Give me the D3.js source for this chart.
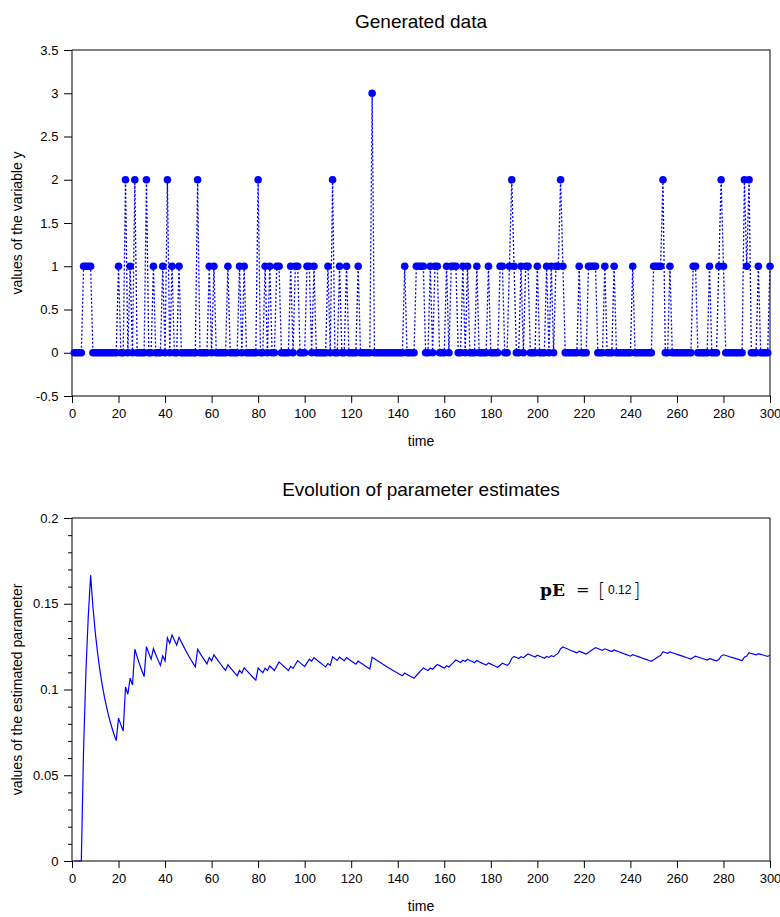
<!DOCTYPE html>
<html>
<head>
<meta charset="utf-8">
<script src="https://cdn.jsdelivr.net/npm/d3@7.9.0/dist/d3.min.js"></script>
<style>
  body { margin: 0; background: #fff; }
  svg text { fill: #000; }
</style>
</head>
<body>
<svg id="chart" width="780" height="917" font-family="'Liberation Sans', Arial, sans-serif"></svg>
<script>
const yValues = [
  0,0,0,0,1,1,1,1,0,0,0,0,0,0,0,0,0,0,0,1,
  0,0,2,0,1,0,2,0,0,0,0,2,0,0,1,0,0,0,1,0,
  2,0,1,0,0,1,0,0,0,0,0,0,0,2,0,0,0,0,1,0,
  1,0,0,0,0,0,1,0,0,0,0,1,0,1,0,0,0,0,0,2,
  0,0,1,0,1,0,0,1,1,0,0,0,0,1,0,1,1,0,0,0,
  1,1,0,1,0,0,0,0,0,1,0,2,0,0,1,0,0,1,0,0,
  0,0,1,0,0,0,0,0,3,0,0,0,0,0,0,0,0,0,0,0,
  0,0,1,0,0,0,0,1,1,1,1,0,0,1,0,1,1,0,0,0,
  1,0,1,1,1,0,0,1,0,1,0,0,0,1,0,0,0,0,1,0,
  0,0,0,1,1,0,0,1,2,1,0,0,1,0,1,1,0,0,0,1,
  0,0,0,1,0,1,0,1,1,2,1,0,0,0,0,0,0,1,0,0,
  0,1,1,1,1,0,0,0,1,0,0,0,1,0,0,0,0,0,0,0,
  1,0,0,0,0,0,0,0,0,1,1,1,1,2,0,0,1,0,0,0,
  0,0,0,0,0,0,1,1,0,0,0,0,0,1,0,0,0,1,2,1,
  0,0,0,0,0,0,0,0,2,1,2,0,0,0,1,0,0,0,0,1
];
const timeSteps = yValues.map((d, i) => i + 1);
const nTrials = 3;

// running estimate of the binomial parameter: sum(y) / (nTrials * t)
const cumY = Array.from(d3.cumsum(yValues));
const estimates = cumY.map((s, i) => s / (nTrials * timeSteps[i]));

const xTicks = d3.range(0, 301, 20);
const yTicksTop = [-0.5, 0, 0.5, 1, 1.5, 2, 2.5, 3, 3.5];
const yTicksBottom = [0, 0.05, 0.1, 0.15, 0.2];

const svg = d3.select('#chart');
const blue = '#0000ff';
const left = 72, right = 770;

// plain hyphen for negatives, like the original
function fmt(v) {
  return String(+v.toFixed(3));
}

function drawFrame(top, bottom, x, y, yTicks, yMinor, title, yLabel) {
  let g = svg.append('g');

  g.append('g')
    .attr('transform', `translate(0,${bottom})`)
    .call(d3.axisBottom(x).tickValues(xTicks).tickFormat(fmt).tickSize(7).tickSizeOuter(0))
    .call(a => a.select('.domain').remove())
    .call(a => a.selectAll('text').attr('font-size', 13).attr('dy', '0.9em'));

  g.append('g')
    .attr('transform', `translate(${left},0)`)
    .call(d3.axisLeft(y).tickValues(yTicks).tickFormat(fmt).tickSize(8).tickSizeOuter(0))
    .call(a => a.select('.domain').remove())
    .call(a => a.selectAll('text').attr('font-size', 13).attr('dx', '-0.2em'));

  if (yMinor) {
    g.append('g')
      .attr('transform', `translate(${left},0)`)
      .call(d3.axisLeft(y).tickValues(yMinor).tickFormat('').tickSize(4).tickSizeOuter(0))
      .call(a => a.select('.domain').remove());
  }

  g.selectAll('.tick line').attr('stroke', '#000');
  g.selectAll('.tick text').attr('fill', '#000').attr('font-family', null);
  g.selectAll('g[font-family]').attr('font-family', null);

  g.append('rect')
    .attr('x', left).attr('y', top)
    .attr('width', right - left).attr('height', bottom - top)
    .attr('fill', 'none').attr('stroke', '#000').attr('stroke-width', 1);

  g.append('text')
    .attr('x', (left + right) / 2).attr('y', top - 22)
    .attr('text-anchor', 'middle').attr('font-size', 19)
    .text(title);

  g.append('text')
    .attr('x', (left + right) / 2).attr('y', bottom + 50)
    .attr('text-anchor', 'middle').attr('font-size', 14)
    .text('time');

  g.append('text')
    .attr('transform', `translate(22,${(top + bottom) / 2}) rotate(-90)`)
    .attr('text-anchor', 'middle').attr('font-size', 14)
    .text(yLabel);
}

// ---- top panel: generated data
const topT = 50, topB = 396;
const x1 = d3.scaleLinear().domain([0, 300]).range([left, right]);
const y1 = d3.scaleLinear().domain([-0.5, 3.5]).range([topB, topT]);

drawFrame(topT, topB, x1, y1, yTicksTop, null, 'Generated data', 'values of the variable y');

const plot1 = svg.append('g');
plot1.append('path')
  .datum(yValues)
  .attr('fill', 'none')
  .attr('stroke', blue)
  .attr('stroke-width', 1.3)
  .attr('stroke-dasharray', '2,2')
  .attr('d', d3.line().x((d, i) => x1(timeSteps[i])).y(d => y1(d)));

plot1.selectAll('circle')
  .data(yValues)
  .join('circle')
  .attr('cx', (d, i) => x1(timeSteps[i]))
  .attr('cy', d => y1(d))
  .attr('r', 3.8)
  .attr('fill', blue);

// ---- bottom panel: parameter estimate
const botT = 518, botB = 861;
const x2 = d3.scaleLinear().domain([0, 300]).range([left, right]);
const y2 = d3.scaleLinear().domain([0, 0.2]).range([botB, botT]);
const yMinor = d3.range(1, 20).filter(k => k % 5 !== 0).map(k => k / 100);

drawFrame(botT, botB, x2, y2, yTicksBottom, yMinor, 'Evolution of parameter estimates', 'values of the estimated parameter');

svg.append('path')
  .datum(estimates)
  .attr('fill', 'none')
  .attr('stroke', blue)
  .attr('stroke-width', 1.2)
  .attr('d', d3.line().x((d, i) => x2(timeSteps[i])).y(d => y2(d)));

// annotation pE = [ 0.12 ]
const finalEstimate = estimates[estimates.length - 1];
const ann = svg.append('g').attr('transform', 'translate(540,596)');
ann.append('text')
  .style('font-family', '"DejaVu Serif", "Liberation Serif", serif')
  .attr('font-weight', 'bold').attr('font-size', 17)
  .text('pE');
ann.append('text')
  .attr('x', 36).attr('y', -1)
  .style('font-family', '"DejaVu Serif", serif').attr('font-size', 16)
  .text('=');
ann.append('text')
  .attr('x', 58).attr('y', 1)
  .style('font-family', '"DejaVu Sans", sans-serif').attr('font-size', 19).attr('font-weight', 200)
  .attr('fill', '#444')
  .text('[');
ann.append('text')
  .attr('x', 68).attr('y', -2)
  .attr('font-size', 12)
  .text(d3.format('.2f')(finalEstimate));
ann.append('text')
  .attr('x', 93).attr('y', 1)
  .style('font-family', '"DejaVu Sans", sans-serif').attr('font-size', 19).attr('font-weight', 200)
  .attr('fill', '#444')
  .text(']');
</script>
</body>
</html>
